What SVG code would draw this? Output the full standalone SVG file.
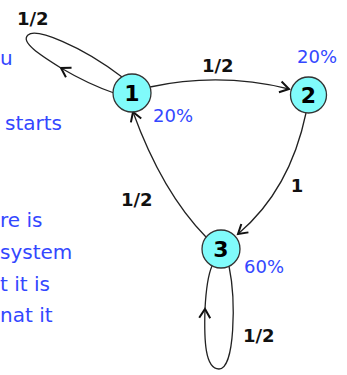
<svg xmlns="http://www.w3.org/2000/svg" width="347" height="375" viewBox="0 0 347 375">
<style>
.node circle{fill:#80fbfb;stroke:#333;stroke-width:1.3}
.node text{font-family:"DejaVu Sans",sans-serif;font-weight:bold;font-size:22px;fill:#000;text-anchor:middle}
.edge{fill:none;stroke:#222;stroke-width:1.3}
.lbl{font-family:"DejaVu Sans",sans-serif;font-weight:bold;font-size:18px;fill:#111}
.pct{font-family:"DejaVu Sans",sans-serif;font-size:18px;fill:#3347ff}
.side{font-family:"DejaVu Sans",sans-serif;font-size:20px;fill:#3347ff}
</style>
<defs>
<marker id="chev" viewBox="0 0 12 12" refX="11" refY="6" markerWidth="12" markerHeight="12" markerUnits="userSpaceOnUse" orient="auto" overflow="visible">
<path d="M2,0.5 L11,6 L2,11.5" fill="none" stroke="#111" stroke-width="2"/>
</marker>
</defs>
<g id="side-text">
<text class="side" x="0" y="65">u</text>
<text class="side" x="5" y="130">starts</text>
<text class="side" x="0" y="227">re is</text>
<text class="side" x="0" y="259">system</text>
<text class="side" x="0" y="291">t it is</text>
<text class="side" x="0" y="322">nat it</text>
</g>
<g id="connectors">
<path class="edge" d="M114,93 Q88,84 61,68" marker-end="url(#chev)"/>
<path class="edge" d="M61,68 C40,55 20,42 28,35 C36,28 80,45 122,77"/>
<path class="edge" d="M150,87 Q220,72 289,89" marker-end="url(#chev)"/>
<path class="edge" d="M306,113 Q290,190 238,234" marker-end="url(#chev)"/>
<path class="edge" d="M206,237 Q162,192 133,112" marker-end="url(#chev)"/>
<path class="edge" d="M229,266 C236,300 235,369 219,369 C205,369 204,340 205,309" marker-end="url(#chev)"/>
<path class="edge" d="M205,309 C206,290 208,275 212,266"/>
</g>
<g id="labels">
<text class="lbl" x="17" y="25">1/2</text>
<text class="lbl" x="202" y="72">1/2</text>
<text class="lbl" x="297" y="192" text-anchor="middle">1</text>
<text class="lbl" x="121" y="206">1/2</text>
<text class="lbl" x="243" y="342">1/2</text>
<text class="pct" x="297" y="63">20%</text>
<text class="pct" x="153" y="122">20%</text>
<text class="pct" x="244" y="273">60%</text>
</g>
<g id="node1" class="node"><circle cx="132" cy="93" r="19"/><text x="132" y="101">1</text></g>
<g id="node2" class="node"><circle cx="308.5" cy="95" r="18"/><text x="308.5" y="103">2</text></g>
<g id="node3" class="node"><circle cx="221" cy="249" r="19"/><text x="221" y="257">3</text></g>
</svg>
